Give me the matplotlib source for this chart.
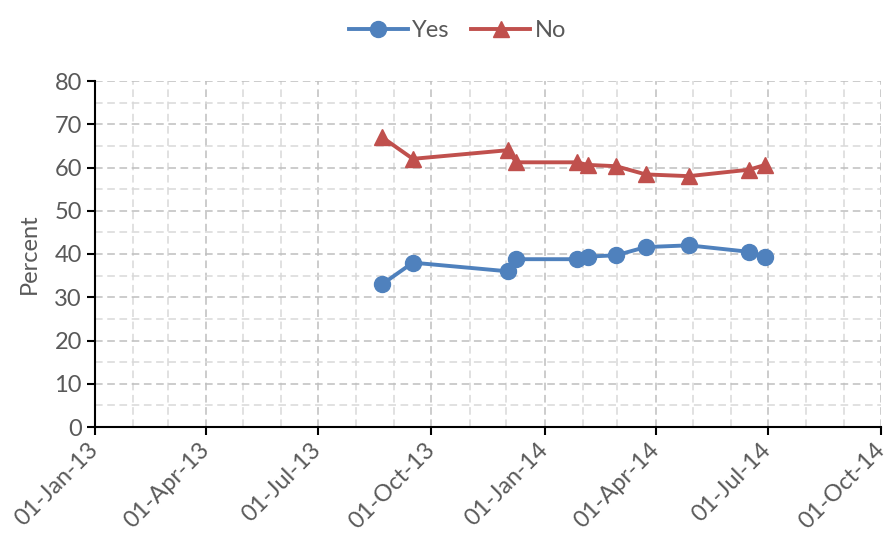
import pandas as pd
import matplotlib
matplotlib.use("Agg")
import matplotlib.pyplot as plt
import matplotlib.dates as mdates
from matplotlib.ticker import MultipleLocator

plt.rcParams['font.family'] = ['Lato', 'DejaVu Sans']

# Poll dates and shares (percent)
poll_dates = ['2013-08-22', '2013-09-16', '2013-12-02', '2013-12-09', '2014-01-27',
              '2014-02-05', '2014-02-28', '2014-03-24', '2014-04-28', '2014-06-16',
              '2014-06-29']
yes_pct = [33.0, 38.0, 36.0, 38.8, 38.8, 39.4, 39.7, 41.6, 42.0, 40.5, 39.4]
no_pct = [67.0, 62.0, 64.0, 61.2, 61.2, 60.6, 60.3, 58.4, 58.0, 59.5, 60.6]

dates = pd.to_datetime(poll_dates)

BLUE = '#4F81BD'
RED = '#C0504D'
TEXT = '#595959'

fig = plt.figure(figsize=(8.88, 5.37), dpi=100)
ax = fig.add_axes([95 / 888, 1 - 427 / 537, (881 - 95) / 888, (427 - 81) / 537])

ax.plot(dates, yes_pct, color=BLUE, lw=2.8, marker='o', ms=11.5, label='Yes', zorder=3)
ax.plot(dates, no_pct, color=RED, lw=2.8, marker='^', ms=11.5, label='No', zorder=3)

ax.set_xlim(pd.Timestamp('2013-01-01'), pd.Timestamp('2014-10-01'))
ax.set_ylim(0, 80)

ax.xaxis.set_major_locator(mdates.MonthLocator(bymonth=[1, 4, 7, 10]))
ax.xaxis.set_minor_locator(mdates.MonthLocator())
ax.xaxis.set_major_formatter(mdates.DateFormatter('%d-%b-%y'))
ax.yaxis.set_major_locator(MultipleLocator(10))
ax.yaxis.set_minor_locator(MultipleLocator(5))

# dashed grid, minor lines lighter
ax.grid(which='major', color='#BFBFBF', ls=(0, (5, 3)), lw=1.1)
ax.grid(which='minor', color='#D9D9D9', ls=(0, (5, 3)), lw=1.1)
ax.set_axisbelow(True)

for side in ('top', 'right'):
    ax.spines[side].set_visible(False)
for side in ('left', 'bottom'):
    ax.spines[side].set_linewidth(1.5)

ax.tick_params(which='major', length=6, width=1.5, colors='black', labelcolor=TEXT,
               labelsize=17)
ax.tick_params(axis='x', pad=8)
ax.tick_params(which='minor', length=0)
plt.setp(ax.get_xticklabels(), rotation=45, ha='right', va='center',
         rotation_mode='anchor')

ax.set_ylabel('Percent', fontsize=17, color=TEXT, labelpad=10)

fig.legend(loc='upper center', bbox_to_anchor=(0.515, 1.002), ncol=2, frameon=False,
           fontsize=17, labelcolor=TEXT, handlelength=2.5, columnspacing=0.9,
           handletextpad=0.2)

fig.savefig('out.png', dpi=100)
